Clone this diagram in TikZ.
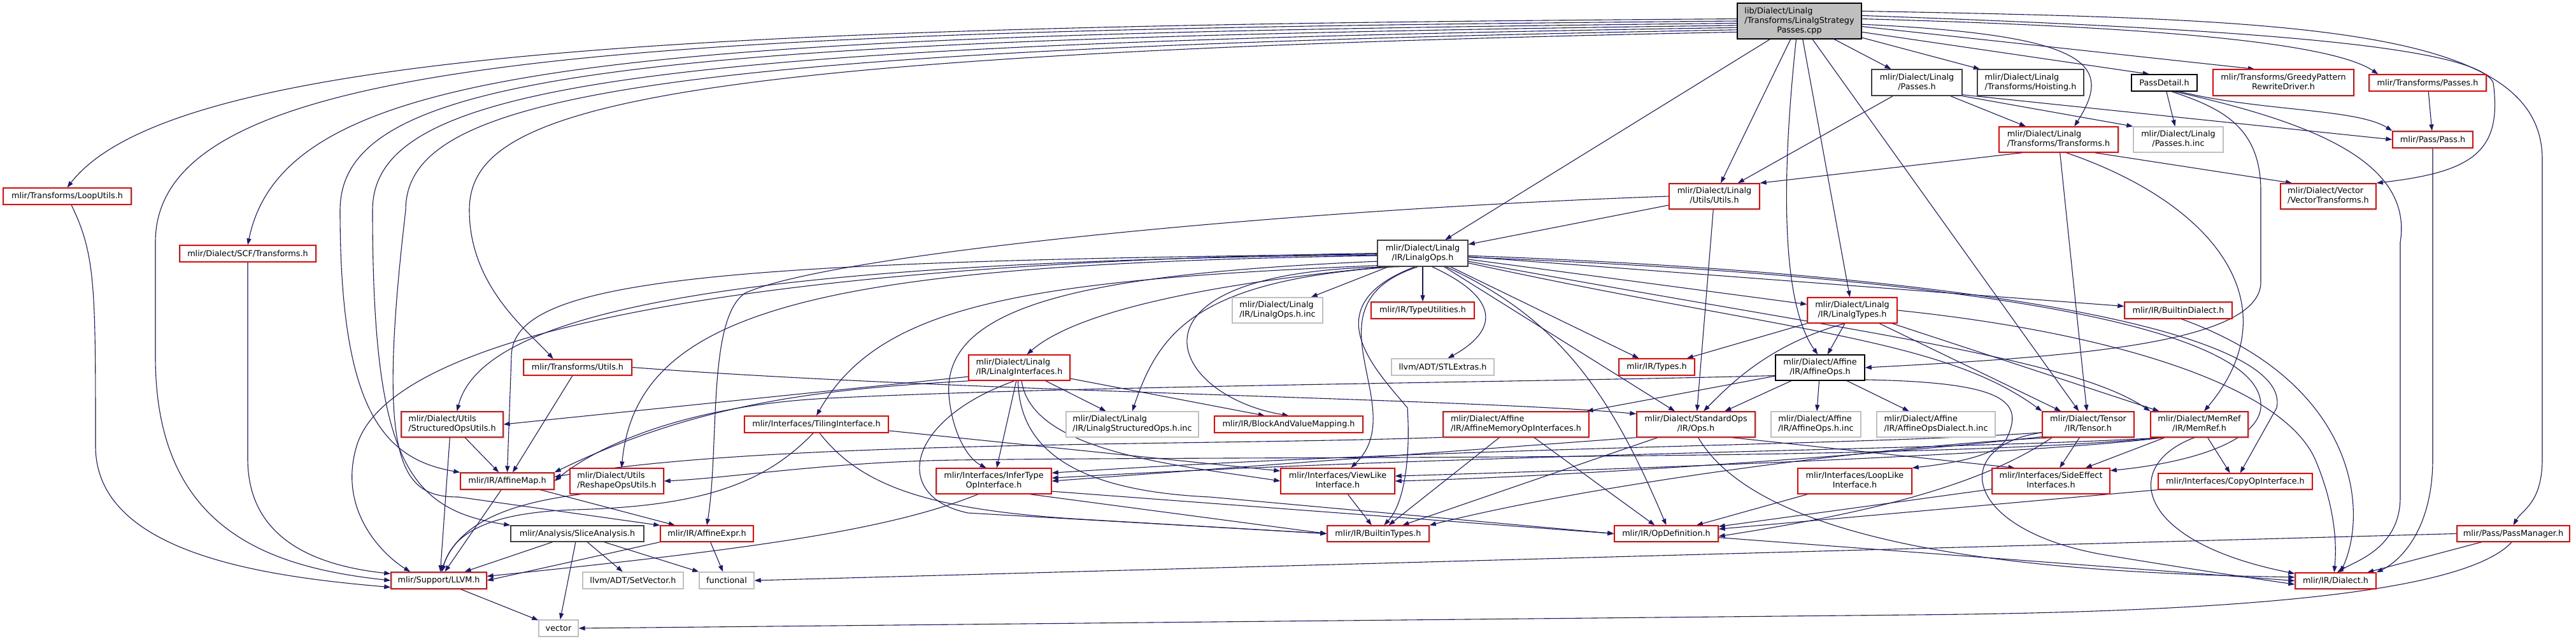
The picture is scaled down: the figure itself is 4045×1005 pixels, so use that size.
\documentclass[tikz,border=0pt]{standalone}
\usepackage{fontspec}
\setmainfont{DejaVu Sans}
\usetikzlibrary{arrows.meta}

\definecolor{edgeblue}{HTML}{191970}
\definecolor{truncred}{HTML}{FF0000}
\definecolor{extgrey}{HTML}{BFBFBF}
\definecolor{docgrey}{HTML}{404040}

\newcommand{\twol}[2]{\begin{tabular}{@{}l@{}}#1\\\multicolumn{1}{@{}c@{}}{#2}\end{tabular}}
\newcommand{\threel}[3]{\begin{tabular}{@{}l@{}}#1\\#2\\\multicolumn{1}{@{}c@{}}{#3}\end{tabular}}

\pgfdeclarelayer{edges}
\pgfsetlayers{edges,main}

\tikzset{
  hdr/.style={draw, rectangle, inner sep=0pt, line width=1.4pt, fill=white,
    font=\fontsize{12.8}{15}\selectfont},
  sz/.style 2 args={minimum width=#1pt, minimum height=#2pt},
  redhdr/.style={hdr, draw=truncred},
  greyhdr/.style={hdr, draw=extgrey},
  dochdr/.style={hdr, draw=docgrey},
  blackhdr/.style={hdr, draw=black},
  roothdr/.style={hdr, draw=black, fill=extgrey},
  dep/.style={edgeblue, line width=1.1pt, -{Triangle[length=10pt,width=7pt]}},
}

\begin{document}
\begin{tikzpicture}[x=1pt, y=-1pt]
\useasboundingbox (0,0) rectangle (4045,1005);

% top of the graph
\node[roothdr, sz={195}{56}] (root) at (2825.5,33) {\threel{lib/Dialect/Linalg}{/Transforms/LinalgStrategy}{Passes.cpp}};
\node[dochdr, sz={142}{41}] (linalgpasses) at (3010,129.5) {\twol{mlir/Dialect/Linalg}{/Passes.h}};
\node[dochdr, sz={167}{41}] (hoisting) at (3188.5,129.5) {\twol{mlir/Dialect/Linalg}{/Transforms/Hoisting.h}};
\node[blackhdr, sz={103}{26}] (passdetail) at (3398.5,130) {PassDetail.h};
\node[redhdr, sz={221}{41}] (greedy) at (3585.5,129.5) {\twol{mlir/Transforms/GreedyPattern}{RewriteDriver.h}};
\node[redhdr, sz={184}{26}] (trpasses) at (3812,130) {mlir/Transforms/Passes.h};
\node[redhdr, sz={187}{40}] (ltransforms) at (3232.5,219) {\twol{mlir/Dialect/Linalg}{/Transforms/Transforms.h}};
\node[greyhdr, sz={141}{40}] (passesinc) at (3420.5,219) {\twol{mlir/Dialect/Linalg}{/Passes.h.inc}};
\node[redhdr, sz={126}{26}] (pass) at (3820,219) {mlir/Pass/Pass.h};
\node[redhdr, sz={142}{40}] (lutils) at (2692,308) {\twol{mlir/Dialect/Linalg}{/Utils/Utils.h}};
\node[redhdr, sz={150}{40}] (vectr) at (3656,308) {\twol{mlir/Dialect/Vector}{/VectorTransforms.h}};
\node[redhdr, sz={201}{26}] (loopu) at (105.5,308) {mlir/Transforms/LoopUtils.h};
\node[redhdr, sz={214}{26}] (scftr) at (389,398) {mlir/Dialect/SCF/Transforms.h};

% linalg ops level
\node[dochdr, sz={142}{41}] (linalgops) at (2234,397.5) {\twol{mlir/Dialect/Linalg}{/IR/LinalgOps.h}};
\node[greyhdr, sz={142}{40}] (linalgopsinc) at (2006,487) {\twol{mlir/Dialect/Linalg}{/IR/LinalgOps.h.inc}};
\node[redhdr, sz={162}{26}] (typeutil) at (2234,487) {mlir/IR/TypeUtilities.h};
\node[redhdr, sz={141}{40}] (linalgtypes) at (2908.5,487) {\twol{mlir/Dialect/Linalg}{/IR/LinalgTypes.h}};
\node[redhdr, sz={169}{26}] (builtindial) at (3420.5,487) {mlir/IR/BuiltinDialect.h};
\node[redhdr, sz={170}{25}] (trutils) at (907,576.5) {mlir/Transforms/Utils.h};
\node[redhdr, sz={159}{40}] (linalgif) at (1600.5,577) {\twol{mlir/Dialect/Linalg}{/IR/LinalgInterfaces.h}};
\node[greyhdr, sz={161}{26}] (stlextras) at (2265.5,576) {llvm/ADT/STLExtras.h};
\node[redhdr, sz={119}{26}] (types) at (2601.5,576) {mlir/IR/Types.h};
\node[blackhdr, sz={140}{40}] (affops) at (2858,577) {\twol{mlir/Dialect/Affine}{/IR/AffineOps.h}};

% row of dialect headers
\node[redhdr, sz={160}{40}] (structu) at (710,666) {\twol{mlir/Dialect/Utils}{/StructuredOpsUtils.h}};
\node[redhdr, sz={226}{26}] (tiling) at (1282,666) {mlir/Interfaces/TilingInterface.h};
\node[greyhdr, sz={208}{40}] (structinc) at (1778,666) {\twol{mlir/Dialect/Linalg}{/IR/LinalgStructuredOps.h.inc}};
\node[redhdr, sz={233}{26}] (bvm) at (2023.5,666) {mlir/IR/BlockAndValueMapping.h};
\node[redhdr, sz={229}{40}] (affmem) at (2380.5,666) {\twol{mlir/Dialect/Affine}{/IR/AffineMemoryOpInterfaces.h}};
\node[redhdr, sz={186}{40}] (stdops) at (2663,666) {\twol{mlir/Dialect/StandardOps}{/IR/Ops.h}};
\node[greyhdr, sz={141}{40}] (affopsinc) at (2851.5,666) {\twol{mlir/Dialect/Affine}{/IR/AffineOps.h.inc}};
\node[greyhdr, sz={186}{40}] (affdialinc) at (3040,666) {\twol{mlir/Dialect/Affine}{/IR/AffineOpsDialect.h.inc}};
\node[redhdr, sz={144}{40}] (tensor) at (3279,666) {\twol{mlir/Dialect/Tensor}{/IR/Tensor.h}};
\node[redhdr, sz={153}{40}] (memref) at (3453.5,666) {\twol{mlir/Dialect/MemRef}{/IR/MemRef.h}};

% interfaces
\node[redhdr, sz={147}{26}] (affmap) at (796.5,755) {mlir/IR/AffineMap.h};
\node[redhdr, sz={147}{40}] (reshape) at (968.5,755) {\twol{mlir/Dialect/Utils}{/ReshapeOpsUtils.h}};
\node[redhdr, sz={181}{40}] (inferty) at (1560.5,755) {\twol{mlir/Interfaces/InferType}{OpInterface.h}};
\node[redhdr, sz={179}{40}] (viewlike) at (2100.5,755) {\twol{mlir/Interfaces/ViewLike}{Interface.h}};
\node[redhdr, sz={179}{40}] (looplike) at (2912.5,755) {\twol{mlir/Interfaces/LoopLike}{Interface.h}};
\node[redhdr, sz={185}{40}] (sideeff) at (3220.5,755) {\twol{mlir/Interfaces/SideEffect}{Interfaces.h}};
\node[redhdr, sz={242}{25}] (copyop) at (3510,755.5) {mlir/Interfaces/CopyOpInterface.h};

% bottom rows
\node[dochdr, sz={209}{25}] (slice) at (906.5,837.5) {mlir/Analysis/SliceAnalysis.h};
\node[redhdr, sz={146}{25}] (affexpr) at (1110,837.5) {mlir/IR/AffineExpr.h};
\node[redhdr, sz={160}{25}] (builtintypes) at (2164,837.5) {mlir/IR/BuiltinTypes.h};
\node[redhdr, sz={163}{25}] (opdef) at (2616.5,837.5) {mlir/IR/OpDefinition.h};
\node[redhdr, sz={177}{25}] (passmgr) at (3946.5,837.5) {mlir/Pass/PassManager.h};
\node[redhdr, sz={150}{26}] (llvm) at (689,911) {mlir/Support/LLVM.h};
\node[greyhdr, sz={158}{26}] (setvec) at (994,911) {llvm/ADT/SetVector.h};
\node[greyhdr, sz={86}{26}] (functional) at (1141,911) {functional};
\node[redhdr, sz={127}{25}] (dialect) at (3667.5,911.5) {mlir/IR/Dialect.h};
\node[greyhdr, sz={62}{26}] (vector) at (877,986) {vector};

\begin{pgfonlayer}{edges}
% includes of the source file
\draw[dep] (root.178) .. controls (1200,40) and (280,70) .. (loopu.north);
\draw[dep] (root.180) .. controls (1000,48) and (244,80) .. (244,380) -- (244,560) .. controls (244,830) and (420,890) .. (llvm.180);
\draw[dep] (root.182) .. controls (1000,55) and (450,90) .. (scftr.north);
\draw[dep] (root.184) .. controls (1000,62) and (534,110) .. (534,330) .. controls (534,640) and (600,720) .. (affmap.north west);
\draw[dep] (root.186) .. controls (1000,70) and (585,130) .. (585,330) .. controls (585,720) and (640,800) .. (slice.north west);
\draw[dep] (root.188) .. controls (1000,78) and (637,150) .. (637,330) .. controls (590,730) and (630,780) .. (720,780) -- (affexpr.170);
\draw[dep] (root.190) .. controls (1000,85) and (737,170) .. (737,330) .. controls (737,450) and (830,520) .. (trutils.161);
\draw[dep] (root) -- (linalgops.31);
\draw[dep] (root) -- (lutils);
\draw[dep] (root.-100) .. controls (2795,300) and (2800,480) .. (affops.100);
\draw[dep] (root) -- (linalgtypes);
\draw[dep] (root) -- (tensor);
\draw[dep] (root) -- (linalgpasses);
\draw[dep] (root) -- (hoisting);
\draw[dep] (root.-3) .. controls (3280,55) and (3320,100) .. (ltransforms.40);
\draw[dep] (root.-10) -- (passdetail.150);
\draw[dep] (root.-5) -- (greedy.155);
\draw[dep] (root.2) .. controls (3300,40) and (3650,60) .. (trpasses.170);
\draw[dep] (root.5) .. controls (3500,45) and (3890,70) .. (3915,130) .. controls (3930,240) and (3880,270) .. (vectr.north east);
\draw[dep] (root.9) .. controls (3600,30) and (3992,40) .. (3992,250) -- (3992,720) .. controls (3992,790) and (3960,800) .. (passmgr.north);

% pass headers
\draw[dep] (linalgpasses) -- (lutils);
\draw[dep] (linalgpasses) -- (ltransforms);
\draw[dep] (linalgpasses.south east) -- (passesinc.north west);
\draw[dep] (linalgpasses.-15) -- (pass.west);
\draw[dep] (ltransforms.200) -- (lutils.north east);
\draw[dep] (ltransforms.-20) -- (vectr.160);
\draw[dep] (ltransforms) -- (tensor);
\draw[dep] (ltransforms.-60) .. controls (3480,320) and (3600,480) .. (memref.70);
\draw[dep] (passdetail) -- (passesinc);
\draw[dep] (passdetail.-30) .. controls (3550,175) and (3700,170) .. (pass.north west);
\draw[dep] (passdetail.-50) .. controls (3490,170) and (3550,200) .. (3550,300) -- (3550,440) .. controls (3555,540) and (3250,560) .. (affops.east);
\draw[dep] (passdetail.-40) .. controls (3620,190) and (3790,250) .. (3769,380) -- (3769,780) .. controls (3769,860) and (3700,880) .. (dialect.80);
\draw[dep] (trpasses) -- (pass);
\draw[dep] (pass) -- (3820,720) .. controls (3820,830) and (3770,880) .. (dialect.north east);

% linalg utils
\draw[dep] (lutils) -- (linalgops);
\draw[dep] (lutils) -- (stdops);
\draw[dep] (lutils.west) .. controls (2000,330) and (1300,400) .. (1170,460) .. controls (1110,500) and (1130,700) .. (affexpr.north);

% linalg ops
\draw[dep] (linalgops) -- (linalgopsinc);
\draw[dep] (linalgops) -- (typeutil);
\draw[dep] (linalgops.-55) .. controls (2360,470) and (2350,520) .. (stlextras.60);
\draw[dep] (linalgops) -- (types);
\draw[dep] (linalgops.200) .. controls (1950,440) and (1700,480) .. (linalgif.60);
\draw[dep] (linalgops.205) .. controls (1880,440) and (1820,520) .. (structinc.north);
\draw[dep] (linalgops.210) .. controls (1740,420) and (1830,620) .. (bvm.north);
\draw[dep] (linalgops.-110) .. controls (2040,480) and (2220,640) .. (viewlike.45);
\draw[dep] (linalgops.-120) .. controls (2060,480) and (2160,580) .. (2210,640) .. controls (2215,720) and (2205,790) .. (builtintypes.55);
\draw[dep] (linalgops.-30) .. controls (2450,500) and (2530,620) .. (opdef.north);
\draw[dep] (linalgops) -- (stdops);
\draw[dep] (linalgops) -- (linalgtypes);
\draw[dep] (linalgops) -- (builtindial);
\draw[dep] (linalgops.-12) .. controls (2800,520) and (3050,530) .. (tensor.north west);
\draw[dep] (linalgops.-10) .. controls (2900,520) and (3250,560) .. (memref.north west);
\draw[dep] (linalgops.-5) .. controls (3000,430) and (3560,500) .. (3550,640) .. controls (3545,690) and (3450,725) .. (sideeff.10);
\draw[dep] (linalgops.-3) .. controls (3100,430) and (3600,520) .. (3575,640) -- (copyop.60);
\draw[dep] (linalgops.190) .. controls (1700,430) and (1480,480) .. (1490,620) .. controls (1495,680) and (1520,720) .. (inferty.120);
\draw[dep] (linalgops.195) .. controls (1600,440) and (1380,480) .. (tiling.north);
\draw[dep] (linalgops.183) .. controls (1300,415) and (1000,480) .. (reshape.70);
\draw[dep] (linalgops.182) .. controls (1200,410) and (760,480) .. (structu.70);
\draw[dep] (linalgops.181) .. controls (1100,410) and (803,440) .. (803,560) -- (affmap.north);
\draw[dep] (linalgops.west) .. controls (1300,410) and (620,500) .. (560,700) .. controls (530,800) and (600,870) .. (llvm.163);

% linalg interfaces
\draw[dep] (linalgif.190) -- (structu.east);
\draw[dep] (linalgif.195) .. controls (1300,610) and (1100,630) .. (affmap.north east);
\draw[dep] (linalgif) -- (structinc);
\draw[dep] (linalgif.-12) -- (bvm.160);
\draw[dep] (linalgif) -- (inferty);
\draw[dep] (linalgif.-80) .. controls (1620,710) and (1850,730) .. (viewlike.west);
\draw[dep] (linalgif.-110) .. controls (1420,660) and (1400,780) .. (1520,805) -- (builtintypes.west);
\draw[dep] (linalgif.-95) .. controls (1600,700) and (1680,770) .. (1900,780) -- (opdef.west);

% left part
\draw[dep] (tiling.-110) .. controls (1200,760) and (1100,795) .. (900,800) .. controls (760,805) and (710,840) .. (llvm.70);
\draw[dep] (tiling.-70) .. controls (1350,760) and (1450,800) .. (1700,815) -- (builtintypes.west);
\draw[dep] (tiling.-5) -- (viewlike.170);
\draw[dep] (structu) -- (affmap);
\draw[dep] (structu.-100) -- (llvm.80);
\draw[dep] (trutils) -- (affmap);
\draw[dep] (trutils.east) .. controls (1500,615) and (2300,625) .. (stdops.170);
\draw[dep] (affmap) -- (affexpr);
\draw[dep] (affmap) -- (llvm);
\draw[dep] (reshape.200) .. controls (800,790) and (720,820) .. (llvm.75);
\draw[dep] (slice) -- (llvm);
\draw[dep] (slice) -- (setvec);
\draw[dep] (slice) -- (functional);
\draw[dep] (slice) -- (vector);
\draw[dep] (affexpr.south west) -- (llvm.east);
\draw[dep] (affexpr) -- (functional);
\draw[dep] (llvm) -- (vector);
\draw[dep] (scftr) -- (389,720) .. controls (389,830) and (470,885) .. (llvm.172);
\draw[dep] (loopu) .. controls (150,400) and (150,450) .. (150,700) .. controls (150,870) and (420,905) .. (llvm.188);

% linalg types and affine
\draw[dep] (linalgtypes) -- (types);
\draw[dep] (linalgtypes) -- (affops);
\draw[dep] (linalgtypes.-120) .. controls (2780,540) and (2720,600) .. (stdops.60);
\draw[dep] (linalgtypes) -- (tensor);
\draw[dep] (linalgtypes) -- (memref);
\draw[dep] (linalgtypes.east) .. controls (3300,520) and (3580,600) .. (3635,720) .. controls (3665,790) and (3670,850) .. (dialect.100);
\draw[dep] (affops) -- (stdops);
\draw[dep] (affops) -- (affopsinc);
\draw[dep] (affops) -- (affdialinc);
\draw[dep] (affops) -- (affmem);
\draw[dep] (affops.190) .. controls (2400,600) and (1700,605) .. (1300,625) .. controls (1100,635) and (950,690) .. (affmap.east);
\draw[dep] (affops.-15) .. controls (3150,600) and (3180,630) .. (3150,690) .. controls (3130,720) and (3040,730) .. (looplike.north east);
\draw[dep] (affmem) -- (builtintypes);
\draw[dep] (affmem) -- (opdef);
\draw[dep] (affmem.190) .. controls (1900,700) and (1200,690) .. (affmap.5);

% standard ops, tensor, memref
\draw[dep] (stdops.south west) -- (inferty.east);
\draw[dep] (stdops) -- (builtintypes);
\draw[dep] (stdops.-20) -- (sideeff.160);
\draw[dep] (stdops.-80) .. controls (2780,880) and (3300,900) .. (dialect.175);
\draw[dep] (tensor.190) .. controls (2900,700) and (2300,700) .. (inferty.8);
\draw[dep] (tensor.195) .. controls (2900,720) and (2400,750) .. (viewlike.east);
\draw[dep] (tensor.200) .. controls (2950,700) and (2500,760) .. (builtintypes.north east);
\draw[dep] (tensor.200) .. controls (3100,770) and (2900,810) .. (opdef.-3);
\draw[dep] (tensor) -- (sideeff);
\draw[dep] (tensor.190) .. controls (3060,700) and (3080,830) .. (3300,870) .. controls (3420,890) and (3520,905) .. (dialect.185);
\draw[dep] (memref.-160) .. controls (3200,712) and (2600,735) .. (viewlike.5);
\draw[dep] (memref.-160) .. controls (3100,705) and (2300,712) .. (inferty.3);
\draw[dep] (memref.-160) .. controls (3000,725) and (2000,715) .. (1500,722) .. controls (1300,725) and (1150,750) .. (reshape.east);
\draw[dep] (memref) -- (sideeff);
\draw[dep] (memref) -- (copyop);
\draw[dep] (memref.-110) .. controls (3330,730) and (3350,850) .. (dialect.170);

% interfaces down to the core headers
\draw[dep] (inferty.-140) .. controls (1400,830) and (1200,860) .. (llvm.5);
\draw[dep] (inferty.-20) -- (builtintypes.west);
\draw[dep] (inferty.-10) -- (opdef.west);
\draw[dep] (viewlike) -- (builtintypes);
\draw[dep] (looplike) -- (opdef);
\draw[dep] (sideeff) -- (opdef);
\draw[dep] (copyop.south west) -- (opdef.5);
\draw[dep] (opdef) -- (dialect.west);
\draw[dep] (builtindial.-70) .. controls (3700,600) and (3720,800) .. (dialect.60);
\draw[dep] (passmgr) -- (dialect);
\draw[dep] (passmgr.west) -- (functional.east);
\draw[dep] (passmgr.-100) .. controls (3880,920) and (3600,960) .. (3000,965) -- (vector.east);
\end{pgfonlayer}
\end{tikzpicture}
\end{document}
